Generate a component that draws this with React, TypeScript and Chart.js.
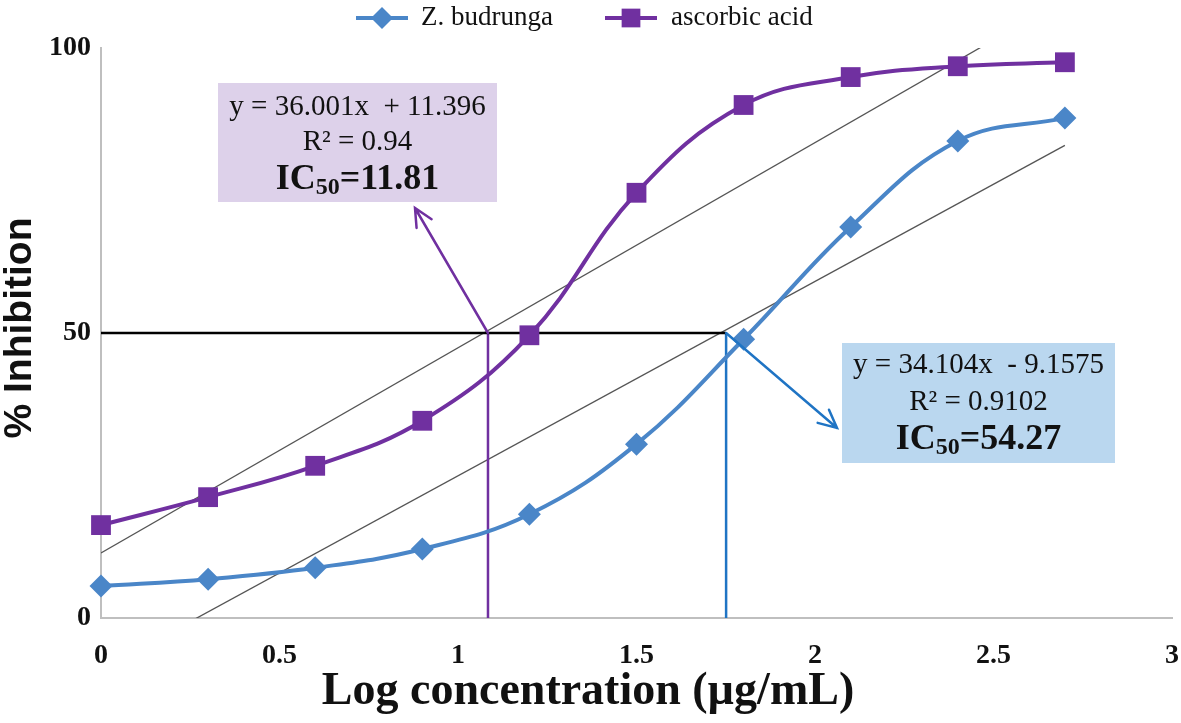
import React, { useEffect, useRef } from "react";
import { Chart, registerables } from "chart.js";

Chart.register(...registerables);

// ---- data ----
const logConc = [0, 0.3, 0.6, 0.9, 1.2, 1.5, 1.8, 2.1, 2.4, 2.7];
const zBudrunga = [5.6, 6.8, 8.8, 12.1, 18.2, 30.5, 48.9, 68.6, 83.7, 87.7];
const ascorbicAcid = [16.3, 21.2, 26.7, 34.6, 49.6, 74.6, 90.0, 94.9, 96.8, 97.5];
const seriesNames = ["Z. budrunga", "ascorbic acid"];
const xRange = [0, 3];
const xStep = 0.5;
const yRange = [0, 100];
const yStep = 50;
const trendAscorbic = [36.001, 11.396]; // slope, intercept
const trendZb = [34.104, -9.1575];
const trendXSpan = [0, 2.7];
const halfInhibition = 50;
const icLogAscorbic = 1.084;
const icLogZb = 1.751;
const ascorbicLabel = ["y = 36.001x  + 11.396", "R² = 0.94", "11.81"];
const zbLabel = ["y = 34.104x  - 9.1575", "R² = 0.9102", "54.27"];
const xTitle = "Log concentration (µg/mL)";
const yTitle = "% Inhibition";

const BLUE = "#4a86c8";
const PURPLE = "#7030a0";
const VBLUE = "#1f74c4";
const SERIF = "'Liberation Serif', 'Times New Roman', serif";
const SANS = "'Liberation Sans', Arial, sans-serif";

function trendPoints(c: number[]) {
  return trendXSpan.map((x) => ({ x, y: c[0] * x + c[1] }));
}

function drawBox(
  ctx: CanvasRenderingContext2D,
  x: number,
  y: number,
  w: number,
  h: number,
  fill: string,
  lines: string[],
  lineYs: number[]
) {
  ctx.save();
  ctx.fillStyle = fill;
  ctx.fillRect(x, y, w, h);
  const cx = x + w / 2;
  ctx.fillStyle = "#111";
  ctx.textBaseline = "middle";
  ctx.textAlign = "center";
  ctx.font = `29px ${SERIF}`;
  ctx.fillText(lines[0], cx, y + lineYs[0]);
  ctx.fillText(lines[1], cx, y + lineYs[1]);
  // IC50 line
  const big = `bold 36px ${SERIF}`;
  const small = `bold 24px ${SERIF}`;
  ctx.textAlign = "left";
  ctx.font = big;
  const wIC = ctx.measureText("IC").width;
  const rest = "=" + lines[2];
  const wRest = ctx.measureText(rest).width;
  ctx.font = small;
  const wSub = ctx.measureText("50").width;
  const total = wIC + wSub + wRest;
  let sx = cx - total / 2;
  const ly = y + lineYs[2];
  ctx.font = big;
  ctx.fillText("IC", sx, ly);
  sx += wIC;
  ctx.font = small;
  ctx.fillText("50", sx, ly + 8);
  sx += wSub;
  ctx.font = big;
  ctx.fillText(rest, sx, ly);
  ctx.restore();
}

function drawArrow(
  ctx: CanvasRenderingContext2D,
  x1: number,
  y1: number,
  x2: number,
  y2: number,
  color: string
) {
  const ang = Math.atan2(y2 - y1, x2 - x1);
  const head = 20;
  ctx.save();
  ctx.strokeStyle = color;
  ctx.lineWidth = 2.5;
  ctx.lineCap = "round";
  ctx.beginPath();
  ctx.moveTo(x1, y1);
  ctx.lineTo(x2, y2);
  ctx.moveTo(x2 - head * Math.cos(ang - 0.45), y2 - head * Math.sin(ang - 0.45));
  ctx.lineTo(x2, y2);
  ctx.lineTo(x2 - head * Math.cos(ang + 0.45), y2 - head * Math.sin(ang + 0.45));
  ctx.stroke();
  ctx.restore();
}

const annotationPlugin = {
  id: "annotations",
  afterDraw(chart: any) {
    const ctx: CanvasRenderingContext2D = chart.ctx;
    const xs = chart.scales.x;
    const ys = chart.scales.y;
    // arrows
    drawArrow(ctx, xs.getPixelForValue(icLogAscorbic), ys.getPixelForValue(halfInhibition), 415, 208, PURPLE);
    drawArrow(ctx, xs.getPixelForValue(icLogZb), ys.getPixelForValue(halfInhibition), 837, 428, VBLUE);
    // boxes
    drawBox(ctx, 218, 83, 279, 119, "#ddd1ea", ascorbicLabel, [24, 59, 97]);
    drawBox(ctx, 842, 343, 273, 120, "#bad7ef", zbLabel, [22, 59, 97]);

    // axis titles
    ctx.save();
    ctx.fillStyle = "#111";
    ctx.textAlign = "center";
    ctx.textBaseline = "middle";
    ctx.font = `bold 46px ${SERIF}`;
    ctx.fillText(xTitle, 588, 692);
    ctx.translate(20, 328);
    ctx.rotate(-Math.PI / 2);
    ctx.font = `bold 39px ${SANS}`;
    ctx.fillText(yTitle, 0, 0);
    ctx.restore();

    // legend
    ctx.save();
    ctx.textBaseline = "middle";
    ctx.textAlign = "left";
    ctx.font = `27px ${SERIF}`;
    const ly = 18;
    const items = [
      { x0: 356, color: BLUE, style: "rectRot", r: 11, tx: 421, label: seriesNames[0] },
      { x0: 605, color: PURPLE, style: "rect", r: 13, tx: 671, label: seriesNames[1] },
    ];
    for (const it of items) {
      ctx.strokeStyle = it.color;
      ctx.lineWidth = 4;
      ctx.beginPath();
      ctx.moveTo(it.x0, ly);
      ctx.lineTo(it.x0 + 52, ly);
      ctx.stroke();
      ctx.fillStyle = it.color;
      if (it.style === "rect") {
        const s = it.r * 0.72;
        ctx.fillRect(it.x0 + 26 - s, ly - s, 2 * s, 2 * s);
      } else {
        ctx.beginPath();
        ctx.moveTo(it.x0 + 26 - it.r, ly);
        ctx.lineTo(it.x0 + 26, ly - it.r);
        ctx.lineTo(it.x0 + 26 + it.r, ly);
        ctx.lineTo(it.x0 + 26, ly + it.r);
        ctx.closePath();
        ctx.fill();
      }
      ctx.fillStyle = "#111";
      ctx.fillText(it.label, it.tx, ly);
    }
    ctx.restore();
  },
};

export default function App() {
  const ref = useRef<HTMLCanvasElement | null>(null);
  useEffect(() => {
    if (!ref.current) return;
    const chart = new Chart(ref.current, {
      type: "line",
      data: {
        datasets: [
          {
            label: seriesNames[0],
            data: logConc.map((x, i) => ({ x, y: zBudrunga[i] })),
            borderColor: BLUE,
            backgroundColor: BLUE,
            borderWidth: 4,
            pointStyle: "rectRot",
            pointRadius: 11.5,
            pointBorderWidth: 0,
            tension: 0.4,
            clip: 20,
            order: 0,
          } as any,
          {
            label: seriesNames[1],
            data: logConc.map((x, i) => ({ x, y: ascorbicAcid[i] })),
            borderColor: PURPLE,
            backgroundColor: PURPLE,
            borderWidth: 4,
            pointStyle: "rect",
            pointRadius: 14,
            pointBorderWidth: 0,
            tension: 0.4,
            clip: 20,
            order: 0,
          } as any,
          {
            label: "half",
            data: [
              { x: xRange[0], y: halfInhibition },
              { x: icLogZb, y: halfInhibition },
            ],
            borderColor: "#000",
            borderWidth: 2.5,
            pointRadius: 0,
            tension: 0,
            order: 1,
          },
          {
            label: "icAsc",
            data: [
              { x: icLogAscorbic, y: yRange[0] },
              { x: icLogAscorbic, y: halfInhibition },
            ],
            borderColor: PURPLE,
            borderWidth: 2.5,
            pointRadius: 0,
            tension: 0,
            order: 1,
          },
          {
            label: "icZb",
            data: [
              { x: icLogZb, y: yRange[0] },
              { x: icLogZb, y: halfInhibition },
            ],
            borderColor: VBLUE,
            borderWidth: 2.5,
            pointRadius: 0,
            tension: 0,
            order: 1,
          },
          {
            label: "trendAsc",
            data: trendPoints(trendAscorbic),
            borderColor: "#555",
            borderWidth: 1.3,
            pointRadius: 0,
            tension: 0,
            order: 2,
          },
          {
            label: "trendZb",
            data: trendPoints(trendZb),
            borderColor: "#555",
            borderWidth: 1.3,
            pointRadius: 0,
            tension: 0,
            order: 2,
          },
        ],
      },
      options: {
        responsive: false,
        animation: false,
        events: [],
        layout: { autoPadding: false, padding: { top: 48, right: 0, left: 0, bottom: 0 } },
        plugins: { legend: { display: false }, tooltip: { enabled: false } },
        scales: {
          x: {
            type: "linear",
            min: xRange[0],
            max: xRange[1],
            ticks: {
              stepSize: xStep,
              padding: 21,
              color: "#111",
              font: { family: SERIF, size: 28, weight: "bold" },
              maxRotation: 0,
              callback: (v: any) => String(v),
            },
            grid: { display: false, drawTicks: false },
            border: { display: true, color: "#bfbfbf", width: 2 },
            afterFit: (s: any) => {
              s.height = 105;
              s.paddingLeft = 0;
              s.paddingRight = 9;
            },
          },
          y: {
            type: "linear",
            min: yRange[0],
            max: yRange[1],
            ticks: {
              stepSize: yStep,
              padding: 10,
              color: "#111",
              font: { family: SERIF, size: 28, weight: "bold" },
            },
            grid: { display: false, drawTicks: false },
            border: { display: true, color: "#bfbfbf", width: 2 },
            afterFit: (s: any) => {
              s.width = 101;
            },
          },
        },
      } as any,
      plugins: [annotationPlugin],
    });
    return () => chart.destroy();
  }, []);
  return (
    <div style={{ position: "absolute", left: 0, top: 0, width: 1181, height: 723, background: "#fff" }}>
      <canvas ref={ref} width={1181} height={723} style={{ display: "block" }} />
    </div>
  );
}
